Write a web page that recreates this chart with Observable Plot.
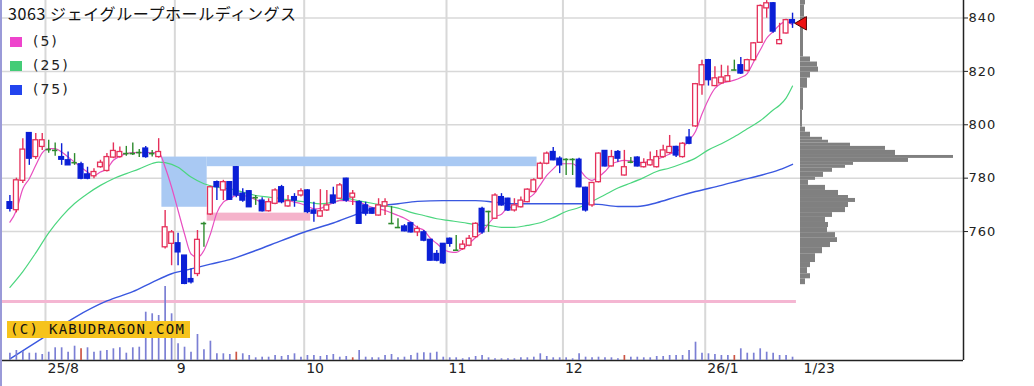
<!DOCTYPE html>
<html><head><meta charset="utf-8">
<script src="https://cdn.jsdelivr.net/npm/d3@7"></script>
<script src="https://cdn.jsdelivr.net/npm/@observablehq/plot@0.6"></script>
<style>
body{margin:0;background:#fff;}
#wrap{position:relative;width:1034px;height:386px;overflow:hidden;background:#fff;}
#wrap svg{position:absolute;left:0;top:0;}
.title{position:absolute;left:8px;top:5px;font:16px "Noto Sans CJK JP",sans-serif;color:#111;line-height:16px;white-space:nowrap;letter-spacing:0.6px;}
.leg{position:absolute;left:10px;font:14px "DejaVu Sans",sans-serif;color:#222;line-height:14px;letter-spacing:2px;}
.leg i{display:inline-block;width:12px;height:10px;margin-right:11px;vertical-align:-1px;}
.wm{position:absolute;left:7px;top:321px;width:183px;height:17px;background:#f6c31c;font:14px "DejaVu Sans Mono",monospace;letter-spacing:1.3px;line-height:17px;color:#111;padding-left:3px;box-sizing:border-box;white-space:nowrap;}
.lb{position:absolute;left:0;top:0;width:2px;height:386px;background:#9a9ad8;}
#main g[aria-label="y-axis tick label"] text{letter-spacing:1px;}
</style></head><body><div id="wrap"></div>
<script>
// ---- data (trading-day index 0..121, 2025-07-24 .. 2026-01-23) ----
const open  = [771,768,779,796.9,787.9,791.7,790.7,790.4,787.9,786.7,785.8,785.2,781.4,780.7,784.1,782.7,787.7,787.9,789.2,789.2,
789.6,791.1,789.2,787.9,754.1,755.4,755.6,751,742.2,744.1,763,766.4,778.5,775.4,778.5,784.1,774.2,775.1,772.7,771.6,
767.6,770.4,776.6,769.4,772.9,773.5,775.4,767.9,765.6,767.9,773.5,772.3,779.8,772.7,771,769.8,768.6,766,769.4,763,
761.5,761.9,763.1,759.7,759.7,756.9,751.6,755.4,757.3,753,753.4,754.7,757.9,768.5,767.5,764.8,772.9,772.3,767.9,769.1,
771,774.8,779.8,785.4,789.8,787.3,787,787,786.9,776.4,769.8,778.5,790.2,784.4,789.8,781,786,787.7,784.1,784.8,
784.1,787.9,789.4,791.7,787.9,795.2,799.4,814.8,824.2,814.5,815.5,816.1,820.5,822.3,820.2,824.2,830.7,843.6,845.5,830.2,
834.2,839.2];
const high  = [773.5,780,794.8,797,796.7,796.7,794.2,793.2,792.9,789.8,789.2,786,784.1,783.5,786.7,789.2,793.2,791.7,791.9,793.2,
790.7,791.9,790.4,794.8,767.9,760.4,759.4,751,746,760.4,763.5,777,778.9,779.2,778.5,784.4,776,775.4,773.5,772.7,
772.3,776,777.3,773.5,774.2,776,775.7,771,775.7,775.4,776.6,778,780,775.4,771.5,771,768.8,772.3,772.3,769.4,
764.8,762.6,763.5,762,760.4,757,752.9,755.5,757.6,758.5,756.6,758.5,763.3,769.1,767.6,774.2,774.2,772.5,772.3,772.9,
776,779.8,786,789.8,791.5,788,787.3,787.3,787.5,776.6,778.5,789.5,790.4,790.4,790.4,790.4,787.7,788,787.3,789.8,
790.4,792.3,796,792,793.3,798.2,815.5,824.2,824.5,821.7,822.3,822,824.2,825.2,824.5,830.8,844.9,846.5,845.8,838,
839.5,841.8];
const low   = [767.3,767,778,784.8,787,790.4,789.3,788.2,784.8,784.8,784.8,779.4,779.4,779.8,783.7,782.3,787.3,787.5,788.2,788.5,
787.7,787.5,787.9,787.5,753.5,747.2,747.2,740.1,740.4,743.1,754.1,766,771.6,771.6,771.9,772.7,771,769.1,769.8,767.3,
767.3,770,770.4,769.1,769.1,772.9,766.7,763.5,765.3,767.5,770.2,772,771,769.8,762.9,765.8,766.5,765.8,766,762.6,
761.5,759.9,759.5,758.1,756.2,749,748.7,747.8,754.1,752.9,753,754.3,757.5,759,759.7,764.5,769.5,767.5,767.3,768.8,
770.8,774.5,779.4,785,786.5,781.7,781,781,776.4,767.3,769.1,778.2,784.2,784.2,786,780.8,785.4,784.2,783.8,784.5,
783.8,787.5,789,787.7,787.5,792.5,799,811.1,814.5,814.2,815.2,815.8,820.3,818.8,819.8,823.8,830.5,839.9,834.3,830,
834,836.1];
const close = [768.5,779.2,790.7,787.3,794.2,794.2,790.7,790.4,786.9,784.8,785.8,779.8,779.8,782.3,785.8,787.9,790.2,789.8,789.2,789.2,
789.6,787.9,789.2,789.8,761.6,759.7,752.2,740.4,741,756.9,763,776.6,776.6,778.5,771.9,773.5,771.6,769.1,772.7,767.6,
771,775.4,771,771.4,771.6,775.1,767.3,766.7,767.6,769.8,770.6,777.3,771.6,774.2,762.9,766.7,766.7,769.8,771,763,
761.5,760.1,759.7,761,756.6,749.1,749.1,748.1,755.4,753,755.1,757.3,762.9,759.7,767.5,773.5,769.8,767.9,769.8,771.6,
775.7,779.2,785.4,789.2,786.7,784.8,787,787,776.6,767.9,778.2,789.2,784.4,787.9,787.3,784.1,786,784.4,785.7,786.7,
787.9,790.4,791.7,788.5,792.9,792.9,815.2,822.3,816.7,817.4,817.7,818.2,820.5,819.2,824.2,830.5,844.5,845.5,834.9,831.7,
839.2,838];
// volume (relative units)
const volume = [7.3,10,9,7.3,7.3,6,8.3,12.7,12.7,8.3,14.3,11.7,12.7,8.3,9.3,10,11.7,12.7,7.3,12.7,
13.3,48.3,46.7,45,74,46.7,16.7,13.3,8.3,26,10.7,19.3,6.7,6.7,6,8.3,6.7,5,2.7,3.3,
3.3,5,4,5,6.7,3.3,5,5,4,5,6,3.3,4,2.7,10,3.3,2.7,2.7,5,6,
2.7,3.3,5,7.3,7.7,7.3,8.3,3.3,2.7,2.7,1.7,2.7,4,5,2.7,1.7,1.7,1.7,1.7,2.7,
2.7,3.3,6.7,4,2.7,2.7,2.7,1.7,6.7,3.3,2.7,3.3,2.7,2.7,1.7,5,3.3,3.3,2.7,2.7,
4,4,5,5,5,10,18.3,7.3,6.7,6,5,5,5,11.7,7.3,7.3,11.7,8.3,7.3,5,
5,3.3];
const volumeRedDays = [11,35,53,95,112];
// moving averages
const ma5 = [763.5,767.9,776,779.8,784.8,789.5,791.1,791.1,789.8,787.9,
786,784.1,782.3,781,782.3,783.5,786.7,788.2,789.2,789.6,
789.6,789.6,789.6,789.6,784.1,776.6,767.9,759.1,751.6,750.4,
752.9,759.1,767,771,772.3,773.5,773.5,772.9,772,771,
771,771,771.3,771.6,771,770.4,769.5,768.5,768.7,769.8,
770.7,771.6,771.6,771.3,771,770,769.1,768.5,767.9,767,
766,765,763.5,761.5,760.5,757.5,755.5,753.5,752.4,752.2,
753.6,755.5,757.8,759.7,763,765.5,766.5,769,769.3,770.5,
772.3,774,777.5,781,783.5,785.4,785.4,785.4,783.5,780.5,
779.2,780.5,782.5,785.2,786.2,786.7,786.5,786,785.8,786.5,
787,788,789,790,791.5,794.2,797.5,804,809.5,813.6,
815.5,816.1,816.7,817.7,819.2,823.6,828,832.4,834.9,837.4,
838.6,837.4];
const ma25Idx = [0,2,4,6,8,10,12,14,16,18,20,22,23,24,26,28,30,32,34,36,38,40,42,44,46,48,50,52,54,56,58,60,62,64,66,68,70,72,74,76,78,80,82,84,86,88,90,92,94,96,98,100,102,104,106,108,110,112,114,116,118,119,120,121];
const ma25Val = [739.1,745,752,759.5,765.6,770.5,774.2,777.3,779.8,781.7,783.5,785.5,786,785.8,784.1,780.4,777.9,776.6,776,774.8,773.5,772.9,772.3,771.6,771,770.4,771,772.3,771.5,770.6,769.6,768.8,767.2,766,764.8,764.1,763.4,762.6,762.3,761.6,761.6,762.3,763.3,765.2,767.5,769,771.3,773.8,776.3,778.2,780.2,782.5,783.8,785.5,787.5,790.6,792.9,795.5,798.5,801.5,805.5,807.3,810,814.5];
const ma75Idx = [0,5,10,15,19,22,25,28,31,34,38,42,46,50,54,58,60,63,67,72,75,78,83,88,91,94,97,100,103,106,110,113,116,119,121];
const ma75Val = [712.3,720,727.8,734,737.5,741,744.2,746,747.8,749.5,752.9,756.6,760.2,763.2,766.8,769.8,770.4,771.3,771.6,771.6,771,770.4,770.4,770.4,770.2,769.4,769.4,770.8,773,775,777.3,779.2,781,783.2,785.2];
// unfilled price gaps (窓)
const gapFrom = [23.5, 30.5, 30.5];
const gapTo   = [30.5, 81.5, 46.5];
const gapLow  = [769.1, 784.3, 763.9];
const gapHigh = [787.9, 787.9, 766.9];
const gapKind = ["down","down","up"];
const supportPrice = 733.8;
// price-by-volume profile
const profHi = [846.8,844.9,840.4,836.6,825.4,823.5,821.6,819.7,817.5,813.7,805.4,799.1,797.2,795.3,794.2,793.1,791.9,790.4,788.5,787.4,785.9,784.8,783.7,782.2,780.3,779.2,777.3,775.4,773.5,772.4,770.9,769,767.1,765.3,763.4,761.5,759.6,757.7,755.9,754,751.7,748.4,746.5,744.2,742.3];
const profLo = [844.9,840.4,836.6,825.4,823.5,821.6,819.7,817.5,813.7,805.4,799.1,797.2,795.3,794.2,793.1,791.9,790.4,788.5,787.4,785.9,784.8,783.7,782.2,780.3,779.2,777.3,775.4,773.5,772.4,770.9,769,767.1,765.3,763.4,761.5,759.6,757.7,755.9,754,751.7,748.4,746.5,744.2,742.3,740.1];
const profVol = [5,4,5,3,10,17,18,10,7,3,2,5,10,22,28,50,85,95,153,108,53,45,32,23,15,8,25,38,48,55,48,45,32,25,28,27,35,37,30,22,15,10,7,10,5];
// axes
const priceTicks = [760,780,800,820,840];
const monthFirstIdx = [6,26,46,68,86,108];
const monthLabels = ["25/8","9","10","11","12","26/1"];
const lastLabel = "1/23";
const title = "3063 ジェイグループホールディングス";
const maNames = ["(5)","(25)","(75)"];
const maColors = ["#ee44cc","#44cc77","#2244ee"];

// ---- build ----
const RED="#e5305a", BLUE="#0b1fd6", GREEN="#2e8b2e";
const candles = open.map((o,i)=>({i, open:o, high:high[i], low:low[i], close:close[i],
  kind: close[i]>o ? "up" : close[i]<o ? "down" : "doji"}));
const colOf = d => d.kind==="up" ? RED : d.kind==="down" ? BLUE : GREEN;
const bodies = candles.filter(d=>d.kind!=="doji");
const dojis = candles.filter(d=>d.kind==="doji");
const gaps = gapFrom.map((f,k)=>({f, t:gapTo[k], lo:gapLow[k], hi:gapHigh[k], kind:gapKind[k]}));
const ma5Data = ma5.map((v,i)=>({i,v}));
const ma25Data = ma25Idx.map((i,k)=>({i, v:ma25Val[k]}));
const ma75Data = ma75Idx.map((i,k)=>({i, v:ma75Val[k]}));
const vols = volume.map((v,i)=>({i, v, red: volumeRedDays.includes(i)}));
const prof = profVol.map((v,k)=>({v, lo:profLo[k], hi:profHi[k]}));
const months = monthFirstIdx.map((m,k)=>({g:m-0.5, label:monthLabels[k]}));
const lastI = open.length-1;

const W=1034, H=386;
const xDom = [-1.144, 147.43];
const yDom = [711.7, 846.55];
const common = {width:W, height:H, marginLeft:2, marginRight:71, marginTop:0, marginBottom:26,
  style:{background:"transparent", overflow:"visible"}};
const font = "DejaVu Sans, sans-serif";

const main = Plot.plot({...common,
  x:{domain:xDom, axis:null}, y:{domain:yDom, axis:null},
  marks:[
    Plot.ruleY(priceTicks, {stroke:"#d8d8d8", strokeWidth:1.5}),
    Plot.ruleX(months, {x:"g", stroke:"#d8d8d8", strokeWidth:2}),
    Plot.rect(gaps, {x1:"f", x2:"t", y1:"lo", y2:"hi", fill:d=>d.kind==="down"?"#a9c9f3":"#f5b3cb"}),
    Plot.ruleY([supportPrice], {x1:xDom[0], x2:lastI+0.6, stroke:"#f4b6d2", strokeWidth:3}),
    Plot.line(ma75Data, {x:"i", y:"v", stroke:"#3a58e0", strokeWidth:1.4, curve:"monotone-x"}),
    Plot.line(ma25Data, {x:"i", y:"v", stroke:"#4cd67f", strokeWidth:1.2, curve:"monotone-x"}),
    Plot.line(ma5Data, {x:"i", y:"v", stroke:"#e84fc0", strokeWidth:1.2, curve:"monotone-x"}),
    Plot.ruleX(candles, {x:"i", y1:"low", y2:"high", stroke:colOf, strokeWidth:1.4}),
    Plot.rect(bodies, {x1:d=>d.i-0.37, x2:d=>d.i+0.37, y1:"open", y2:"close",
      fill:d=>d.kind==="up"?"#fff":BLUE, stroke:colOf, strokeWidth:1.3}),
    Plot.ruleY(dojis, {y:"close", x1:d=>d.i-0.42, x2:d=>d.i+0.42, stroke:GREEN, strokeWidth:1.6}),
    Plot.ruleY([yDom[0]], {stroke:"#222", strokeWidth:1.5}),
    Plot.ruleX([xDom[1]], {stroke:"#222", strokeWidth:1.5}),
    Plot.axisY(priceTicks, {anchor:"right", tickSize:4, tickPadding:1, fontSize:13, fontFamily:font, fill:"#222", stroke:"#222"}),
    Plot.text(months, {x:"g", frameAnchor:"bottom", dy:12, dx:2, text:"label", textAnchor:"start", fontSize:14, fontFamily:font, fill:"#222"}),
    Plot.text([lastLabel], {x:lastI, frameAnchor:"bottom", dy:12, dx:11, text:d=>d, textAnchor:"start", fontSize:14, fontFamily:font, fill:"#222"})
  ]});
main.id = "main";

const vol = Plot.plot({...common,
  x:{domain:xDom, axis:null}, y:{domain:[0,100], range:[360,260], axis:null},
  marks:[
    Plot.ruleX(vols, {x:"i", y1:0, y2:"v", stroke:d=>d.red?"#cc5544":"#7b7fd4", strokeWidth:1.7})
  ]});

const prf = Plot.plot({...common,
  x:{domain:[0,160], range:[800,960], axis:null}, y:{domain:yDom, axis:null},
  marks:[
    Plot.rect(prof, {x1:0, x2:"v", y1:"lo", y2:"hi", fill:"#808080"})
  ]});

const mark = Plot.plot({...common,
  x:{domain:xDom, axis:null}, y:{domain:yDom, axis:null},
  marks:[
    Plot.dot([candles[lastI]], {x:"i", y:"close", symbol:"triangle", r:5, rotate:-90, dx:10, fill:"#ee1111", stroke:"#550000", strokeWidth:1})
  ]});

const wrap = document.getElementById("wrap");
wrap.append(main, vol, prf, mark);
const t = document.createElement("div"); t.className="title"; t.textContent=title; wrap.append(t);
const legTops = [34, 57.5, 82];
maNames.forEach((n,k)=>{
  const d=document.createElement("div"); d.className="leg"; d.style.top=legTops[k]+"px";
  d.innerHTML = `<i style="background:${maColors[k]}"></i>`; d.append(n); wrap.append(d);
});
const wm = document.createElement("div"); wm.className="wm"; wm.textContent="(C) KABUDRAGON.COM"; wrap.append(wm);
const lb = document.createElement("div"); lb.className="lb"; wrap.append(lb);
</script></body></html>
